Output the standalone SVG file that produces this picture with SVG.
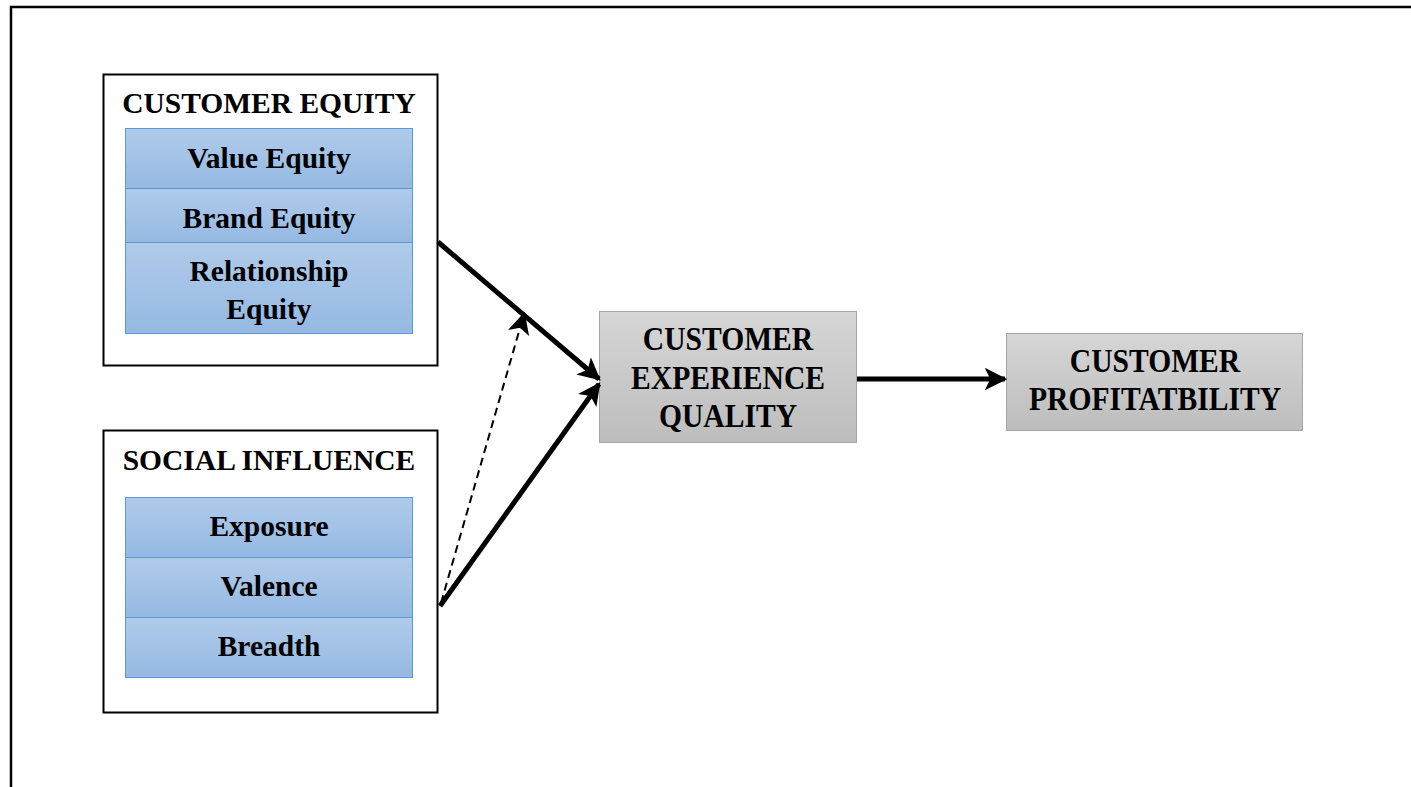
<svg xmlns="http://www.w3.org/2000/svg" width="1411" height="787" viewBox="0 0 1411 787">
<defs>
<linearGradient id="blue" x1="0" y1="0" x2="0" y2="1"><stop offset="0" stop-color="#b0cbea"/><stop offset="1" stop-color="#95b9e3"/></linearGradient>
<linearGradient id="gray" x1="0" y1="0" x2="0" y2="1"><stop offset="0" stop-color="#d6d6d6"/><stop offset="1" stop-color="#bdbdbd"/></linearGradient>
<marker id="ah" viewBox="0 0 10 10" refX="9" refY="5" markerWidth="4.5" markerHeight="4.5" orient="auto" markerUnits="strokeWidth"><path d="M0,0 L10,5 L0,10 L2.5,5 Z" fill="#000"/></marker>
<marker id="ahs" viewBox="0 0 10 10" refX="9" refY="5" markerWidth="11" markerHeight="11" orient="auto" markerUnits="strokeWidth"><path d="M0,0 L10,5 L0,10 L2.5,5 Z" fill="#000"/></marker>
</defs>
<style>
.frame{fill:none;stroke:#000;stroke-width:2.5}
.outer{fill:#fff;stroke:#000;stroke-width:2}
.cell{fill:url(#blue);stroke:#5b9bd5;stroke-width:1}
.gbox{fill:url(#gray);stroke:#a6a6a6;stroke-width:1}
text{font-family:"Liberation Serif","Times New Roman",serif;font-weight:bold;fill:#000;text-anchor:middle}
.t{font-size:29.5px}
.s{font-size:29.5px}
.b{font-size:34px}
.c{stroke:#000;fill:none}
</style>
<rect width="1411" height="787" fill="#fff"/>
<path class="frame" d="M11,787 L11,7 L1411,7"/>
<g id="customer-equity">
<rect class="outer" x="103.5" y="74.5" width="334" height="291"/>
<text class="t" x="269" y="113">CUSTOMER EQUITY</text>
<rect class="cell" x="125.5" y="128.5" width="287" height="60"/>
<rect class="cell" x="125.5" y="188.5" width="287" height="54"/>
<rect class="cell" x="125.5" y="242.5" width="287" height="91"/>
<text class="s" x="269" y="168">Value Equity</text>
<text class="s" x="269" y="228">Brand Equity</text>
<text class="s" x="269" y="281">Relationship</text>
<text class="s" x="269" y="319">Equity</text>
</g>
<g id="social-influence">
<rect class="outer" x="103.5" y="430.5" width="334" height="282"/>
<text class="t" x="269" y="470">SOCIAL INFLUENCE</text>
<rect class="cell" x="125.5" y="497.5" width="287" height="60"/>
<rect class="cell" x="125.5" y="557.5" width="287" height="60"/>
<rect class="cell" x="125.5" y="617.5" width="287" height="60"/>
<text class="s" x="269" y="536">Exposure</text>
<text class="s" x="269" y="596">Valence</text>
<text class="s" x="269" y="656">Breadth</text>
</g>
<g id="experience-quality">
<rect class="gbox" x="599.5" y="311.5" width="257" height="131"/>
<text class="b" transform="translate(728,350) scale(0.87,1)">CUSTOMER</text>
<text class="b" transform="translate(728,389) scale(0.87,1)">EXPERIENCE</text>
<text class="b" transform="translate(728,427) scale(0.87,1)">QUALITY</text>
</g>
<g id="profitability">
<rect class="gbox" x="1006.5" y="333.5" width="296" height="97"/>
<text class="b" transform="translate(1155,372) scale(0.87,1)">CUSTOMER</text>
<text class="b" transform="translate(1155,410) scale(0.87,1)">PROFITATBILITY</text>
</g>
<g id="connectors">
<line class="c" x1="438" y1="242" x2="599" y2="379" stroke-width="5" marker-end="url(#ah)"/>
<line class="c" x1="440" y1="606" x2="599" y2="384" stroke-width="5" marker-end="url(#ah)"/>
<line class="c" x1="441" y1="603" x2="524" y2="314" stroke-width="2" stroke-dasharray="8,5" marker-end="url(#ahs)"/>
<line class="c" x1="857" y1="379" x2="1005" y2="379" stroke-width="5" marker-end="url(#ah)"/>
</g>
</svg>
